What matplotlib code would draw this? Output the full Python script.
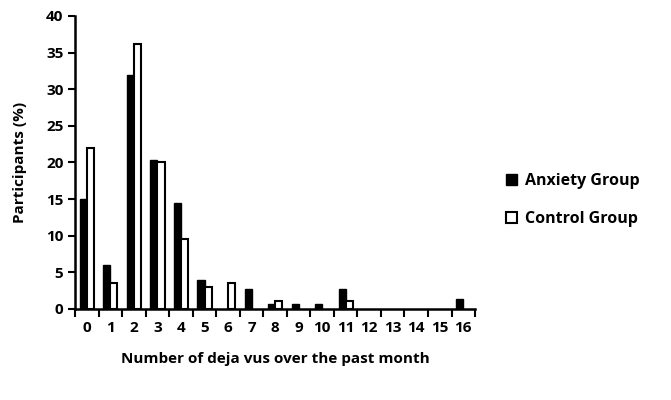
import matplotlib
matplotlib.use("Agg")
import matplotlib.pyplot as plt
import numpy as np
from matplotlib.patches import Patch

plt.rcParams['font.family'] = ['Open Sans', 'DejaVu Sans']
plt.rcParams['font.weight'] = 'bold'

categories = [str(i) for i in range(17)]
anxiety = [15, 6, 32, 20.3, 14.5, 3.9, 0, 2.7, 0.7, 0.7, 0.7, 2.7, 0, 0, 0, 0, 1.4]
control = [22, 3.5, 36.2, 20.1, 9.5, 3.0, 3.5, 0, 1.1, 0, 0, 1.1, 0, 0, 0, 0, 0]

fig = plt.figure(figsize=(6.71, 4.0), dpi=100)
ax = fig.add_axes([0.112, 0.2275, 0.596, 0.7325])

x = np.arange(len(categories))
w = 0.3
a = np.array(anxiety, dtype=float)
c = np.array(control, dtype=float)
ma = a > 0
mc = c > 0
ax.bar(x[ma] - w/2, a[ma], w, color='black', edgecolor='black', linewidth=1.0, label='Anxiety Group')
ax.bar(x[mc] + w/2, c[mc], w, color='white', edgecolor='black', linewidth=1.5, label='Control Group')

ax.set_xlim(-0.5, 16.5)
ax.set_ylim(0, 40)
ax.set_yticks(range(0, 41, 5))
ax.set_xticks(np.arange(-0.5, 17, 1))
ax.set_xticklabels([])
ax.set_xticks(x, minor=True)
ax.set_xticklabels(categories, minor=True)
ax.tick_params(axis='x', which='minor', length=0, pad=9, labelsize=11)
ax.tick_params(axis='x', which='major', length=6, width=1.5, direction='out')
ax.tick_params(axis='y', length=5, width=1.5, direction='out', labelsize=11)
for s in ['top', 'right']:
    ax.spines[s].set_visible(False)
for s in ['left', 'bottom']:
    ax.spines[s].set_linewidth(1.8)

ax.set_xlabel('Number of deja vus over the past month', fontsize=11, fontweight='bold', labelpad=12)
ax.set_ylabel('Participants (%)', fontsize=11, fontweight='bold', labelpad=14)

handles = [Patch(facecolor='black', edgecolor='black'), Patch(facecolor='white', edgecolor='black', linewidth=1.5)]
fig.legend(handles, ['Anxiety Group', 'Control Group'], loc='center left', bbox_to_anchor=(0.732, 0.5),
           frameon=False, handlelength=0.7, handleheight=0.7, handletextpad=0.5,
           labelspacing=1.4, prop={'weight': 'bold', 'size': 11.5})

fig.savefig('out.png', dpi=100)
